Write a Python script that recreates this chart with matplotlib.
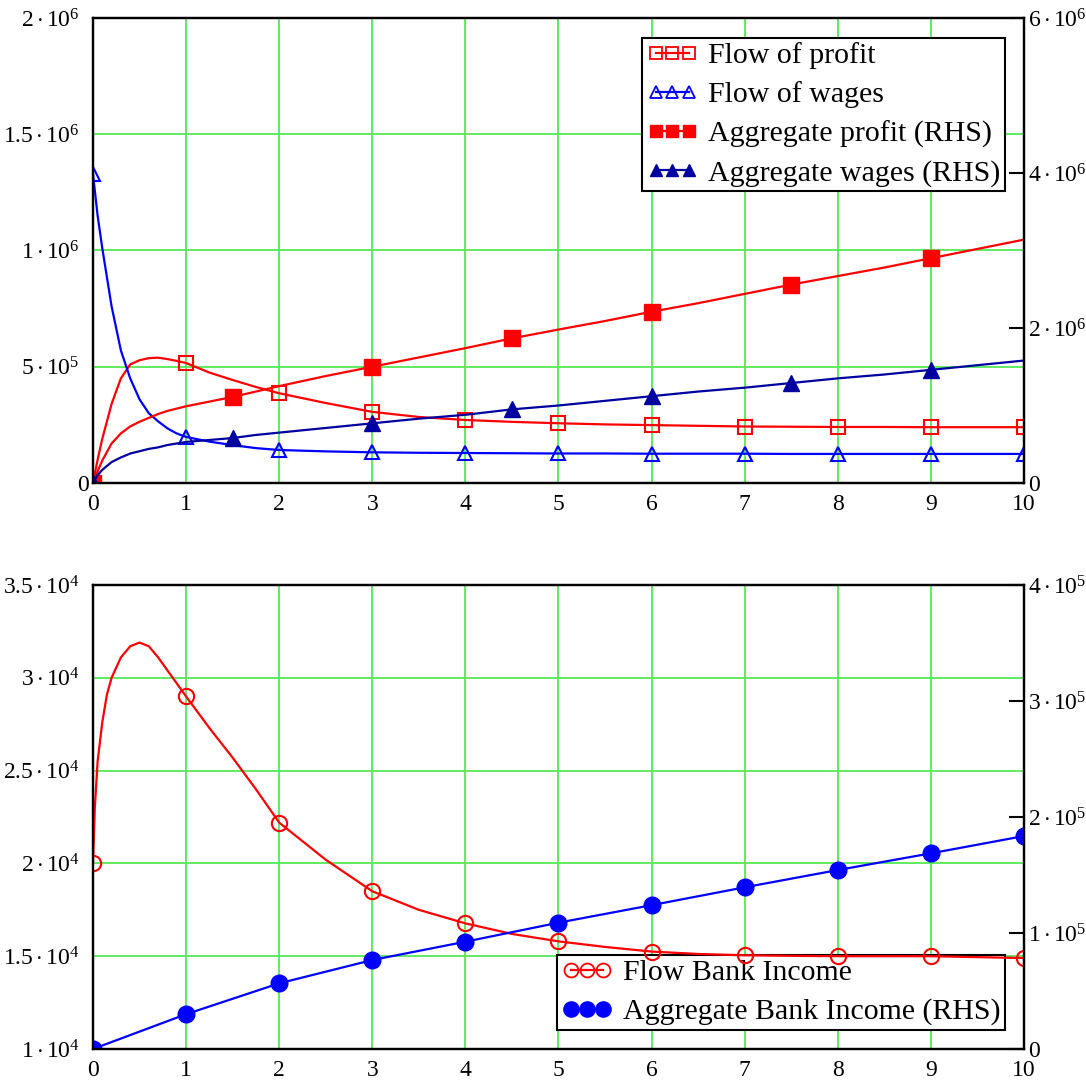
import matplotlib
matplotlib.use('Agg')
import matplotlib.pyplot as plt
from matplotlib.lines import Line2D
from matplotlib.transforms import ScaledTranslation

plt.rcParams['font.family'] = ['Liberation Serif', 'DejaVu Serif']
plt.rcParams['mathtext.fontset'] = 'custom'
plt.rcParams['mathtext.rm'] = 'Liberation Serif'
plt.rcParams['mathtext.it'] = 'Liberation Serif:italic'

# ---------------- data: top panel (values in 1e6) ----------------
t_top = [0, 0.05, 0.1, 0.2, 0.3, 0.4, 0.5, 0.6, 0.7, 0.8, 0.9, 1.0, 1.25, 1.5, 1.75,
         2.0, 2.5, 3.0, 3.5, 4.0, 4.5, 5.0, 5.5, 6.0, 6.5, 7.0, 7.5, 8.0, 8.5, 9.0, 9.5, 10.0]
flow_profit = [0.0, 0.10, 0.19, 0.34, 0.45, 0.51, 0.528, 0.537, 0.539, 0.533, 0.525, 0.516,
               0.475, 0.443, 0.413, 0.386, 0.344, 0.306, 0.284, 0.271, 0.263, 0.257, 0.252,
               0.249, 0.246, 0.243, 0.242, 0.241, 0.241, 0.240, 0.240, 0.240]
flow_wages = [1.33, 1.15, 1.01, 0.76, 0.57, 0.45, 0.36, 0.30, 0.265, 0.235, 0.213, 0.198,
              0.178, 0.163, 0.150, 0.142, 0.136, 0.132, 0.130, 0.129, 0.128, 0.127, 0.127,
              0.126, 0.126, 0.126, 0.125, 0.125, 0.125, 0.125, 0.125, 0.125]
agg_profit = [0.0, 0.15, 0.29, 0.51, 0.64, 0.73, 0.79, 0.84, 0.89, 0.93, 0.96, 0.99,
              1.05, 1.11, 1.18, 1.25, 1.38, 1.50, 1.62, 1.74, 1.866, 1.98, 2.09, 2.21,
              2.32, 2.44, 2.56, 2.67, 2.78, 2.90, 3.02, 3.14]
agg_wages = [0.0, 0.10, 0.17, 0.27, 0.33, 0.38, 0.41, 0.44, 0.46, 0.49, 0.51, 0.53,
             0.555, 0.58, 0.62, 0.65, 0.71, 0.77, 0.83, 0.88, 0.95, 1.00, 1.06, 1.12,
             1.18, 1.23, 1.29, 1.35, 1.40, 1.46, 1.52, 1.58]
flow_marker_t = [0, 1, 2, 3, 4, 5, 6, 7, 8, 9, 10]
agg_marker_t = [0, 1.5, 3, 4.5, 6, 7.5, 9]

# ---------------- data: bottom panel ----------------
t_bank = [0, 0.02, 0.05, 0.1, 0.15, 0.2, 0.3, 0.4, 0.5, 0.6, 0.7, 0.8, 0.9, 1.0, 1.25,
          1.5, 1.75, 2.0, 2.5, 3.0, 3.5, 4.0, 4.5, 5.0, 5.5, 6.0, 6.5, 7.0, 7.5, 8.0,
          8.5, 9.0, 9.5, 10.0]
flow_bank = [2.00, 2.30, 2.55, 2.76, 2.91, 3.00, 3.11, 3.17, 3.19, 3.17, 3.11, 3.04,
             2.97, 2.90, 2.73, 2.57, 2.40, 2.22, 2.02, 1.85, 1.75, 1.677, 1.62, 1.58,
             1.55, 1.525, 1.512, 1.505, 1.502, 1.50, 1.50, 1.50, 1.495, 1.49]   # x1e4
t_bank_agg = [0, 1, 2, 3, 4, 5, 6, 7, 8, 9, 10]
agg_bank = [0.0, 0.30, 0.566, 0.767, 0.925, 1.089, 1.24, 1.394, 1.543, 1.687, 1.836]  # x1e5
bank_marker_t = [0, 1, 2, 3, 4, 5, 6, 7, 8, 9, 10]

# ---------------- tick labels ----------------
x_ticks = [0, 1, 2, 3, 4, 5, 6, 7, 8, 9, 10]
top_left_ticks = [0, 0.5e6, 1.0e6, 1.5e6, 2.0e6]
top_left_labels = ['0', r'$5\cdot10^{5}$', r'$1\cdot10^{6}$', r'$1.5\cdot10^{6}$',
                   r'$2\cdot10^{6}$']
top_right_ticks = [0, 2e6, 4e6, 6e6]
top_right_labels = ['0', r'$2\cdot10^{6}$', r'$4\cdot10^{6}$', r'$6\cdot10^{6}$']
bot_left_ticks = [1.0e4, 1.5e4, 2.0e4, 2.5e4, 3.0e4, 3.5e4]
bot_left_labels = [r'$1\cdot10^{4}$', r'$1.5\cdot10^{4}$', r'$2\cdot10^{4}$',
                   r'$2.5\cdot10^{4}$', r'$3\cdot10^{4}$', r'$3.5\cdot10^{4}$']
bot_right_ticks = [0, 1e5, 2e5, 3e5, 4e5]
bot_right_labels = ['0', r'$1\cdot10^{5}$', r'$2\cdot10^{5}$', r'$3\cdot10^{5}$',
                    r'$4\cdot10^{5}$']

RED = '#ff0000'
BLUE = '#0000ff'
NAVY = '#0000a0'
GREEN = '#55e855'
TICK_FS = 17
LEG_FS = 21.5


def idx(ts, marks):
    return [i for i, v in enumerate(ts) if v in marks]


def style(ax, ax2, fig):
    ax.set_xlim(0, 10)
    ax.set_xticks(x_ticks)
    ax.grid(True, color=GREEN, lw=1.3)
    ax.set_axisbelow(True)
    ax.tick_params(axis='both', length=0, labelsize=TICK_FS)
    ax.tick_params(axis='x', pad=8)
    ax.tick_params(axis='y', pad=3)
    ax2.tick_params(axis='y', direction='in', length=11, width=1.5,
                    labelsize=TICK_FS, pad=3)
    for a in (ax, ax2):
        for s in a.spines.values():
            s.set_linewidth(1.6)
            s.set_color('black')
    ax2.patch.set_visible(False)
    # exponent labels sit a little further from the left spine than plain "0"
    shift = ScaledTranslation(-9 / 100, 0, fig.dpi_scale_trans)
    for tick in ax.yaxis.get_major_ticks():
        if tick.label1.get_text() != '0':
            tick.label1.set_transform(tick.label1.get_transform() + shift)


def legend(ax, handles, labels, loc, anchor, z):
    lg = ax.legend(handles, labels, loc=loc, bbox_to_anchor=anchor, borderaxespad=0,
                   fontsize=LEG_FS, numpoints=3, handlelength=1.7, handletextpad=0.35,
                   borderpad=0.15, labelspacing=0.4, fancybox=False, framealpha=1,
                   edgecolor='black')
    lg.get_frame().set_linewidth(1.5)
    lg.set_zorder(z)
    return lg


fig = plt.figure(figsize=(10.86, 10.82), dpi=100)

# ---------------- top panel ----------------
ax1 = fig.add_axes([0.0856, 0.5536, 0.8573, 0.4298])
ax1b = ax1.twinx()

fp = [v * 1e6 for v in flow_profit]
fw = [v * 1e6 for v in flow_wages]
ap = [v * 1e6 for v in agg_profit]
aw = [v * 1e6 for v in agg_wages]

ax1.plot(t_top, fp, color=RED, lw=1.6, marker='s', ms=10, mfc='none', mew=1.5,
         markevery=idx(t_top, flow_marker_t))
ax1.plot(t_top, fw, color=BLUE, lw=1.6, marker='^', ms=10, mfc='none', mew=1.5,
         markevery=idx(t_top, flow_marker_t))
ax1b.plot(t_top, ap, color=RED, lw=1.6, marker='s', ms=11,
          markevery=idx(t_top, agg_marker_t))
ax1b.plot(t_top, aw, color=NAVY, lw=1.6, marker='^', ms=11,
          markevery=idx(t_top, agg_marker_t))

ax1.set_ylim(0, 2e6)
ax1.set_yticks(top_left_ticks)
ax1.set_yticklabels(top_left_labels)
ax1b.set_ylim(0, 6e6)
ax1b.set_yticks(top_right_ticks)
ax1b.set_yticklabels(top_right_labels)
ax1.set_xticklabels([str(v) for v in x_ticks])
style(ax1, ax1b, fig)

handles_top = [
    Line2D([], [], color=RED, lw=1.6, marker='s', ms=8, mfc='none', mew=1.3),
    Line2D([], [], color=BLUE, lw=1.6, marker='^', ms=8, mfc='none', mew=1.3),
    Line2D([], [], color=RED, lw=1.6, marker='s', ms=9),
    Line2D([], [], color=NAVY, lw=1.6, marker='^', ms=9),
]
labels_top = ['Flow of profit', 'Flow of wages', 'Aggregate profit (RHS)',
              'Aggregate wages (RHS)']
legend(ax1b, handles_top, labels_top, 'upper right', (0.9796, 0.957), 10)

# ---------------- bottom panel ----------------
ax3 = fig.add_axes([0.0856, 0.0305, 0.8573, 0.4288])
ax3b = ax3.twinx()

fb = [v * 1e4 for v in flow_bank]
ab = [v * 1e5 for v in agg_bank]

ax3.plot(t_bank, fb, color=RED, lw=1.6, marker='o', ms=11, mfc='none', mew=1.5,
         markevery=idx(t_bank, bank_marker_t), zorder=3)
ax3b.plot(t_bank_agg, ab, color=BLUE, lw=1.6, marker='o', ms=12,
          markevery=idx(t_bank_agg, bank_marker_t))

ax3.set_ylim(1e4, 3.5e4)
ax3.set_yticks(bot_left_ticks)
ax3.set_yticklabels(bot_left_labels)
ax3b.set_ylim(0, 4e5)
ax3b.set_yticks(bot_right_ticks)
ax3b.set_yticklabels(bot_right_labels)
ax3.set_xticklabels([str(v) for v in x_ticks])
style(ax3, ax3b, fig)

handles_bot = [
    Line2D([], [], color=RED, lw=1.6, marker='o', ms=10, mfc='none', mew=1.3),
    Line2D([], [], color=BLUE, lw=1.6, marker='o', ms=11),
]
labels_bot = ['Flow Bank Income', 'Aggregate Bank Income (RHS)']
# legend on the lower axes, below the flow line but above the grid
legend(ax3, handles_bot, labels_bot, 'lower right', (0.9796, 0.041), 2)

fig.savefig('out.png', dpi=100)
